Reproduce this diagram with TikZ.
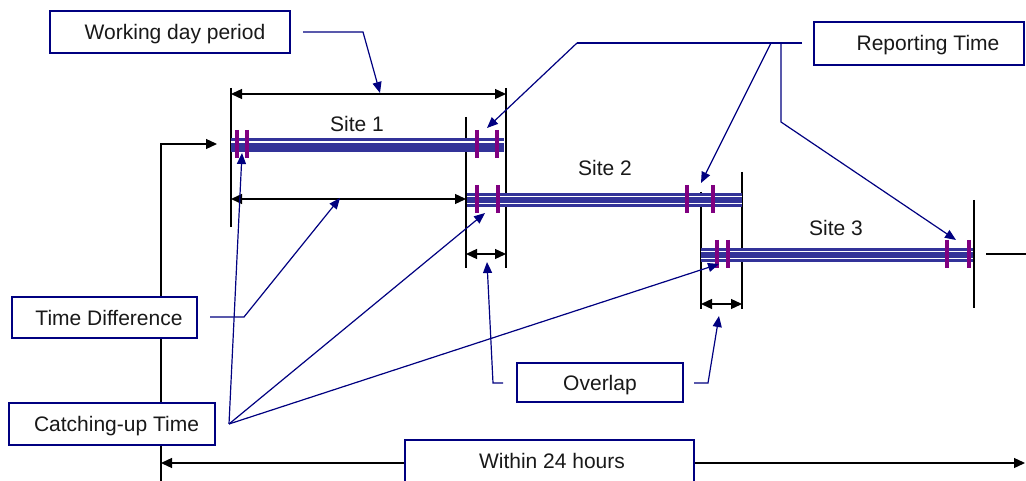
\documentclass[tikz,border=0pt]{standalone}
\usepackage{fontspec}
\setmainfont{Liberation Sans}
\usetikzlibrary{arrows.meta}

\definecolor{leadblue}{HTML}{000080}
\definecolor{bandblue}{HTML}{333399}
\definecolor{tickpurple}{HTML}{800080}

\begin{document}
\begin{tikzpicture}[x=1pt,y=-1pt,
  font=\fontsize{21}{25}\selectfont,
  labelbox/.style={draw=leadblue, line width=1.3pt, fill=white, inner sep=0pt,
                   text=black!90, text height=15pt, text depth=0pt},
  sitelabel/.style={inner sep=0pt, text=black!90, text height=15pt, text depth=0pt},
  lead/.style={draw=leadblue, line width=1.2pt, line join=miter},
  leadarrow/.style={lead, -{Triangle[length=11pt,width=9pt]}},
  guide/.style={draw=black, line width=1.1pt},
  dimarrow/.style={draw=black, line width=1.3pt,
                   {Triangle[length=11pt,width=10pt]}-{Triangle[length=11pt,width=10pt]}},
  onearrow/.style={draw=black, line width=1.3pt, -{Triangle[length=11pt,width=10pt]}},
  tick/.style={draw=tickpurple, line width=4pt}
]
\useasboundingbox (0,0) rectangle (1026,481);

% ---------- boundary lines of the working periods ----------
\draw[guide] (231,88) -- (231,227);
\draw[guide] (506,88) -- (506,268);
\draw[guide] (466,117) -- (466,268);
\draw[guide] (701,192) -- (701,309);
\draw[guide] (742,172) -- (742,309);
\draw[guide] (974,200) -- (974,308);
\draw[guide] (986,254) -- (1026,254);

% ---------- dimension arrows ----------
\coordinate (wdL) at (231,94);  \coordinate (wdR) at (506,94);
\coordinate (tdL) at (231,199); \coordinate (tdR) at (466,199);
\coordinate (ovAL) at (466,254); \coordinate (ovAR) at (506,254);
\coordinate (ovBL) at (701,304); \coordinate (ovBR) at (742,304);
\coordinate (dayL) at (161,463); \coordinate (dayR) at (1025,463);
\draw[dimarrow] (wdL) -- (wdR);
\draw[dimarrow] (tdL) -- (tdR);
\draw[dimarrow] (ovAL) -- (ovAR);
\draw[dimarrow] (ovBL) -- (ovBR);
\draw[dimarrow] (dayL) -- (dayR);

% catching-up elbow into the start of site 1
\coordinate (cuBase) at (161,482);
\coordinate (cuBend) at (161,144);
\coordinate (cuEnd) at (217,144);
\draw[onearrow] (cuBase) -- (cuBend) -- (cuEnd);

% ---------- site bars ----------
% site 1
\fill[bandblue] (231,138) rectangle (504,152);
\fill[white] (231,141) rectangle (504,142.6);
% site 2
\fill[bandblue] (467,193) rectangle (742,207);
\fill[white] (467,196) rectangle (742,197.4);
\fill[white] (467,203) rectangle (742,204.2);
% site 3
\fill[bandblue] (701,248) rectangle (973,262);
\fill[white] (701,251) rectangle (973,252.4);
\fill[white] (701,258) rectangle (973,259.2);

% reporting ticks on each bar
\foreach \x in {237,247,477,497} \draw[tick] (\x,130) -- (\x,158);
\foreach \x in {477,498,687,713} \draw[tick] (\x,185) -- (\x,213);
\foreach \x in {717,728,947,969} \draw[tick] (\x,240) -- (\x,268);

\node[sitelabel] (s1) at (357,124.5) {Site 1};
\node[sitelabel] (s2) at (605,168.5) {Site 2};
\node[sitelabel] (s3) at (836,228.5) {Site 3};

% ---------- label boxes ----------
\node[labelbox, minimum width=240pt, minimum height=42pt] (wdp) at (170,32)
  {\hspace*{10pt}Working day period};
\node[labelbox, minimum width=210pt, minimum height=43pt] (rpt) at (919,43.5)
  {\hspace*{18pt}Reporting Time};
\node[labelbox, minimum width=185pt, minimum height=41pt] (tdf) at (104.5,317.5)
  {\hspace*{9pt}Time Difference};
\node[labelbox, minimum width=206pt, minimum height=42pt] (cup) at (112,424)
  {\hspace*{9pt}Catching-up Time};
\node[labelbox, minimum width=166pt, minimum height=39pt] (ovl) at (600,382.5)
  {Overlap};
\node[labelbox, minimum width=289pt, minimum height=42pt] (w24) at (549.5,461)
  {\hspace*{5pt}Within 24 hours};

% ---------- leader lines ----------
% working day period
\coordinate (wdpA) at (303,32);
\coordinate (wdpB) at (363,32);
\coordinate (wdpT) at (380,93);
\draw[leadarrow] (wdpA) -- (wdpB) -- (wdpT);

% reporting time
\coordinate (rptA) at (802,43);
\coordinate (rptB) at (577,43);
\coordinate (rptC) at (771,43);
\coordinate (rptD) at (781,43);
\coordinate (rptE) at (781,122);
\coordinate (rptT1) at (487,128);
\coordinate (rptT2) at (701,183);
\coordinate (rptT3) at (956,240);
\draw[lead] (rptA) -- (rptB);
\draw[leadarrow] (rptB) -- (rptT1);
\draw[leadarrow] (rptC) -- (rptT2);
\draw[leadarrow] (rptD) -- (rptE) -- (rptT3);

% time difference
\coordinate (tdfA) at (210,317);
\coordinate (tdfB) at (244,317);
\coordinate (tdfT) at (340,198);
\draw[leadarrow] (tdfA) -- (tdfB) -- (tdfT);

% catching-up time
\coordinate (cupA) at (229,424);
\coordinate (cupT1) at (242,153);
\coordinate (cupT2) at (485,213);
\coordinate (cupT3) at (719,264);
\draw[leadarrow] (cupA) -- (cupT1);
\draw[leadarrow] (cupA) -- (cupT2);
\draw[leadarrow] (cupA) -- (cupT3);

% overlap
\coordinate (ovlA) at (503,383);
\coordinate (ovlB) at (493,383);
\coordinate (ovlT1) at (487,262);
\coordinate (ovlC) at (694,383);
\coordinate (ovlD) at (708,383);
\coordinate (ovlT2) at (719,316);
\draw[leadarrow] (ovlA) -- (ovlB) -- (ovlT1);
\draw[leadarrow] (ovlC) -- (ovlD) -- (ovlT2);
\end{tikzpicture}
\end{document}
